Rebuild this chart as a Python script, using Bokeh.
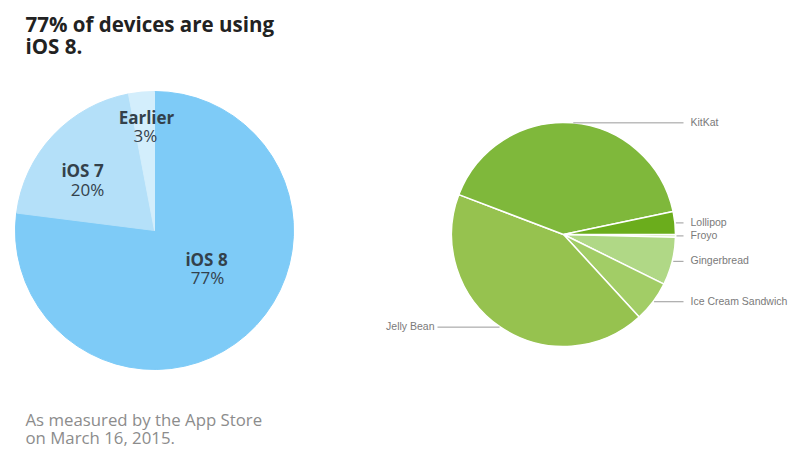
import numpy as np
from bokeh.plotting import figure
from bokeh.models import Range1d, ColumnDataSource
from bokeh.core.properties import value
from bokeh.embed import file_html
from bokeh.resources import INLINE

# ---------------- data ----------------
title_lines = ["77% of devices are using", "iOS 8."]
footnote_lines = ["As measured by the App Store", "on March 16, 2015."]

ios_labels = ["iOS 8", "iOS 7", "Earlier"]
ios_shares = [77, 20, 3]
ios_pct_text = ["77%", "20%", "3%"]

android_labels = ["Froyo", "Gingerbread", "Ice Cream Sandwich", "Jelly Bean", "KitKat", "Lollipop"]
android_shares = [0.4, 6.9, 5.9, 42.6, 40.9, 3.3]

# ---------------- styles / layout ----------------
ios_colors = ["#7ecbf7", "#b4e0f9", "#d3eefc"]
android_colors = ["#cfe9ae", "#b0d886", "#a2cd66", "#96c24f", "#7fb83b", "#6bad1c"]

W, H = 788, 451
TXT_SHIFT = 8  # compensation so that rendered baselines land on the reference ones


def Y(py):
    return H - py


def YT(py):
    return H - (py - TXT_SHIFT)


p = figure(width=W, height=H, x_range=Range1d(0, W), y_range=Range1d(0, H),
           output_backend="svg", toolbar_location=None, min_border=0)
p.axis.visible = False
p.grid.visible = False
p.outline_line_color = None
p.background_fill_color = "white"
p.border_fill_color = "white"

# ---------------- iOS pie (clockwise from 12 o'clock) ----------------
ios_cx, ios_cy, ios_r = 154, Y(230), 139
frac = np.array(ios_shares, dtype=float) / sum(ios_shares)
cum = np.concatenate([[0.0], np.cumsum(frac)])
ios_src = ColumnDataSource(dict(
    start=np.pi / 2 - 2 * np.pi * cum[:-1],
    end=np.pi / 2 - 2 * np.pi * cum[1:],
    color=ios_colors,
))
p.wedge(x=ios_cx, y=ios_cy, radius=ios_r, start_angle="start", end_angle="end",
        direction="clock", fill_color="color", line_color="color", source=ios_src)

# label baselines (pixels from top) for name / percent, and centre x
ios_label_pos = {"iOS 8": (206, 267, 207, 285),
                 "iOS 7": (82, 178, 87, 197),
                 "Earlier": (146, 125, 145, 143)}
name_x, name_y, pct_x, pct_y = [], [], [], []
for lab in ios_labels:
    nx, ny, px, py = ios_label_pos[lab]
    name_x.append(nx); name_y.append(YT(ny))
    pct_x.append(px); pct_y.append(YT(py))
p.text(x=name_x, y=name_y, text=ios_labels, text_font=value("Open Sans"),
       text_font_size="17px", text_font_style="bold", text_color="#33414b",
       text_align="center", text_baseline="alphabetic")
p.text(x=pct_x, y=pct_y, text=ios_pct_text, text_font=value("Open Sans"),
       text_font_size="17px", text_color="#33414b",
       text_align="center", text_baseline="alphabetic")

# title & footnote
p.text(x=[25, 25], y=[YT(31), YT(53)], text=title_lines, text_font=value("Open Sans"),
       text_font_size="20.5px", text_font_style="bold", text_color="#222222",
       text_align="left", text_baseline="alphabetic")
p.text(x=[25, 25], y=[YT(427), YT(445)], text=footnote_lines, text_font=value("Open Sans"),
       text_font_size="16.8px", text_color="#8c8c8c",
       text_align="left", text_baseline="alphabetic")

# ---------------- Android pie (clockwise from 3 o'clock) ----------------
a_cx, a_cy, a_r = 563, Y(234), 112
afrac = np.array(android_shares, dtype=float) / sum(android_shares)
acum = np.concatenate([[0.0], np.cumsum(afrac)])
a_src = ColumnDataSource(dict(
    start=-2 * np.pi * acum[:-1],
    end=-2 * np.pi * acum[1:],
    color=android_colors,
))
p.wedge(x=a_cx, y=a_cy, radius=a_r, start_angle="start", end_angle="end",
        direction="clock", fill_color="color", line_color="white", line_width=1.5,
        source=a_src)

mid = -np.pi * (acum[:-1] + acum[1:])
ex = a_cx + a_r * np.cos(mid)
ey = a_cy + a_r * np.sin(mid)

right_line_end, right_text_x = 683, 690
left_line_end, left_text_x = 437, 434
xs, ys = [], []
rt_x, rt_y, rt_t, lt_x, lt_y, lt_t = [], [], [], [], [], []
for lab, x0, y0 in zip(android_labels, ex, ey):
    if x0 >= a_cx:
        xs.append([x0 + 1, right_line_end])
        ys.append([y0, y0])
        rt_x.append(right_text_x); rt_y.append(y0 + 1); rt_t.append(lab)
    else:
        xs.append([x0 - 1, left_line_end])
        ys.append([y0, y0])
        lt_x.append(left_text_x); lt_y.append(y0 + 1); lt_t.append(lab)
p.multi_line(xs=xs, ys=ys, line_color="#9a9a9a", line_width=1)
p.text(x=rt_x, y=rt_y, text=rt_t, text_font=value("Liberation Sans"),
       text_font_size="10.5px", text_color="#7a7a7a",
       text_align="left", text_baseline="middle")
p.text(x=lt_x, y=lt_y, text=lt_t, text_font=value("Liberation Sans"),
       text_font_size="10.5px", text_color="#7a7a7a",
       text_align="right", text_baseline="middle")

open("out.html", "w").write(file_html(p, INLINE))
